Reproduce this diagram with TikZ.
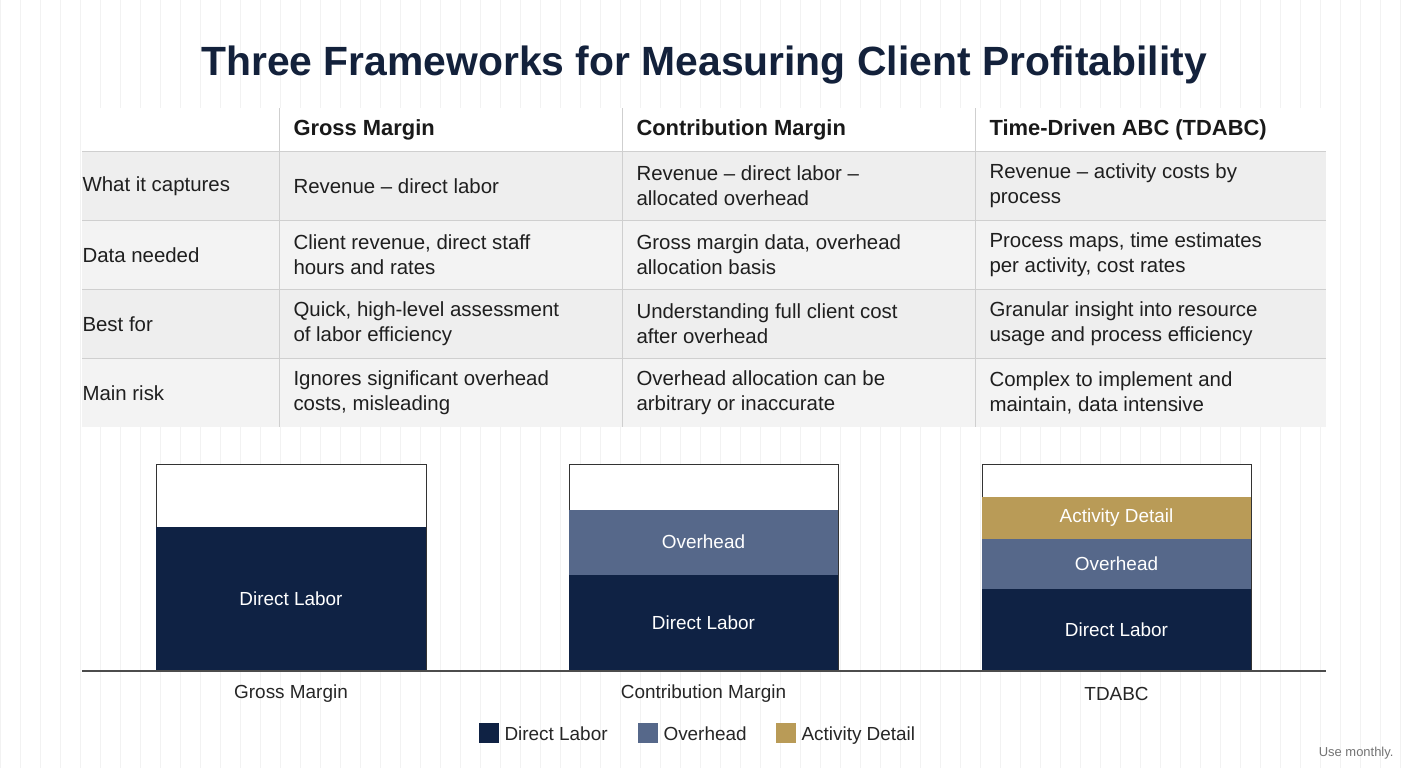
\documentclass[tikz,border=0pt]{standalone}
\usepackage{fontspec}
\setmainfont{Liberation Sans}
\definecolor{navy}{HTML}{0F2244}
\definecolor{ovh}{HTML}{56688A}
\definecolor{gold}{HTML}{B99B57}
\definecolor{ttl}{HTML}{13213B}
\definecolor{rowA}{HTML}{EEEEEE}
\definecolor{rowB}{HTML}{F3F3F3}
\definecolor{rule}{HTML}{CFCFCF}
\begin{document}
\begin{tikzpicture}[x=1bp,y=-1bp,
  cell/.style={anchor=west,align=left,font=\fontsize{20.5}{25}\selectfont,text=black!88},
  head/.style={anchor=west,font=\fontsize{22}{26}\selectfont\bfseries,text=black!90},
  bar/.style={font=\fontsize{19}{23}\selectfont,text=white},
  barcap/.style={font=\fontsize{19}{23}\selectfont,text=black!85},
  leg/.style={anchor=base west,font=\fontsize{19}{23}\selectfont,text=black!85}]
\useasboundingbox (0,0) rectangle (1408,768);
\fill[white] (0,0) rectangle (1408,768);
\draw[black!5,line width=0.6bp] (0,0) grid[step=20] (1408,768);
\node[font=\fontsize{41}{48}\selectfont\bfseries,text=ttl] (title) at (704,65) {Three Frameworks for Measuring Client Profitability};
% table
\fill[white] (82,108) rectangle (1326,151);
\fill[rowA] (82,151) rectangle (1326,220);
\fill[rowB] (82,220) rectangle (1326,289);
\fill[rowA] (82,289) rectangle (1326,358);
\fill[rowB] (82,358) rectangle (1326,427);
\foreach \y in {151,220,289,358} \draw[rule,line width=1bp] (82,\y) -- (1326,\y);
\foreach \x in {279,622,975} \draw[rule,line width=1bp] (\x,108) -- (\x,427);
\node[head] (h1) at (290,130) {Gross Margin};
\node[head] (h2) at (633,130) {Contribution Margin};
\node[head] (h3) at (986,130) {Time-Driven ABC (TDABC)};
\node[cell] (r1) at (79,186) {What it captures};
\node[cell] (r2) at (79,255) {Data needed};
\node[cell] (r3) at (79,324) {Best for};
\node[cell] (r4) at (79,393) {Main risk};
\node[cell] (c11) at (290,186) {Revenue – direct labor};
\node[cell] (c12) at (633,186) {Revenue – direct labor –\\allocated overhead};
\node[cell] (c13) at (986,186) {Revenue – activity costs by\\process};
\node[cell] (c21) at (290,255) {Client revenue, direct staff\\hours and rates};
\node[cell] (c22) at (633,255) {Gross margin data, overhead\\allocation basis};
\node[cell] (c23) at (986,255) {Process maps, time estimates\\per activity, cost rates};
\node[cell] (c31) at (290,324) {Quick, high-level assessment\\of labor efficiency};
\node[cell] (c32) at (633,324) {Understanding full client cost\\after overhead};
\node[cell] (c33) at (986,324) {Granular insight into resource\\usage and process efficiency};
\node[cell] (c41) at (290,393) {Ignores significant overhead\\costs, misleading};
\node[cell] (c42) at (633,393) {Overhead allocation can be\\arbitrary or inaccurate};
\node[cell] (c43) at (986,393) {Complex to implement and\\maintain, data intensive};
% bars
\draw[black!80,fill=white,line width=1bp] (156,464) rectangle (426,671);
\fill[navy] (156,527) rectangle (426,671);
\node[bar] (b1) at (291,599) {Direct Labor};
\draw[black!80,fill=white,line width=1bp] (569,464) rectangle (838,671);
\fill[ovh] (569,510) rectangle (838,575);
\fill[navy] (569,575) rectangle (838,671);
\node[bar] (b2o) at (703.5,542) {Overhead};
\node[bar] (b2d) at (703.5,623) {Direct Labor};
\draw[black!80,fill=white,line width=1bp] (982,464) rectangle (1251,671);
\fill[gold] (982,497) rectangle (1251,539);
\fill[ovh] (982,539) rectangle (1251,589);
\fill[navy] (982,589) rectangle (1251,671);
\node[bar] (b3a) at (1116.5,518) {Activity Detail};
\node[bar] (b3o) at (1116.5,564) {Overhead};
\node[bar] (b3d) at (1116.5,630) {Direct Labor};
\draw[black!70,line width=1.2bp] (82,671) -- (1326,671);
\node[barcap] (l1) at (291,694) {Gross Margin};
\node[barcap] (l2) at (703.5,694) {Contribution Margin};
\node[barcap] (l3) at (1116.5,694) {TDABC};
% legend
\fill[navy] (479,723) rectangle (499,743);
\node[leg] (g1) at (501,740) {Direct Labor};
\fill[ovh] (638,723) rectangle (658,743);
\node[leg] (g2) at (660,740) {Overhead};
\fill[gold] (776,723) rectangle (796,743);
\node[leg] (g3) at (798,740) {Activity Detail};
\node[anchor=east,font=\fontsize{13}{15}\selectfont,text=black!55] (note) at (1397,753) {Use monthly.};
\end{tikzpicture}
\end{document}
